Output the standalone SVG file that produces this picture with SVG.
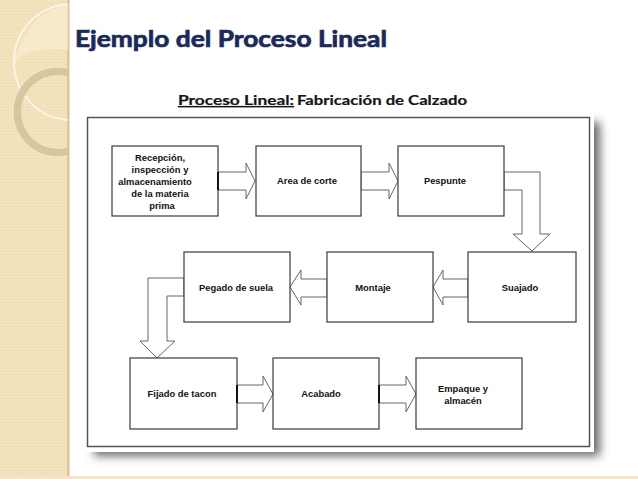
<svg xmlns="http://www.w3.org/2000/svg" width="638" height="479" viewBox="0 0 638 479">
<style>
.box{fill:#fff;stroke:#3a3a3a;stroke-width:1.2}
.arr{fill:#fff;stroke:#666;stroke-width:1}
.lbl{font-family:"Liberation Sans",Arial,sans-serif;font-weight:bold;font-size:9.4px;fill:#111;text-anchor:middle}
.edge{stroke:#111;stroke-width:2}
</style>
<defs>
<pattern id="dots" width="3" height="3" patternUnits="userSpaceOnUse">
<rect width="3" height="3" fill="#f1dfb6"/>
<rect width="1.5" height="1.5" fill="#f6e8c8"/>
</pattern>
<clipPath id="strip"><rect x="0" y="0" width="68" height="479"/></clipPath>
<filter id="blur" x="-10%" y="-10%" width="120%" height="120%"><feGaussianBlur stdDeviation="5"/></filter>
</defs>
<rect width="638" height="479" fill="#fff"/>
<g id="decor">
<rect x="0" y="0" width="68" height="479" fill="url(#dots)"/>
<rect x="67" y="0" width="2.5" height="479" fill="#d8c59a"/>
<g clip-path="url(#strip)">
<path d="M14,60 Q30,10 68,4 L68,50 Q40,45 14,60 Z" fill="#f7ecd2" opacity="0.7"/>
<circle cx="72" cy="62" r="58" fill="none" stroke="#fbf6ea" stroke-width="1.8"/>
<circle cx="58" cy="112" r="41" fill="none" stroke="#d2c19a" stroke-width="8" opacity="0.85"/>
<circle cx="58" cy="112" r="45" fill="none" stroke="#f8efd8" stroke-width="1" opacity="0.8"/>
</g>
<rect x="0" y="476" width="638" height="3" fill="#f6e4cc"/>
</g>
<g id="title">
<text x="75" y="47" font-family="Lato,'Open Sans',sans-serif" font-weight="bold" font-size="22" fill="#1a2a5e" stroke="#1a2a5e" stroke-width="0.7" textLength="312" lengthAdjust="spacingAndGlyphs">Ejemplo del Proceso Lineal</text>
<text x="178" y="105" font-family="Lato,'Open Sans',sans-serif" font-weight="bold" font-size="12.5" fill="#151515" stroke="#151515" stroke-width="0.2" text-decoration="underline" textLength="116" lengthAdjust="spacingAndGlyphs">Proceso Lineal:</text>
<text x="297" y="105" font-family="Lato,'Open Sans',sans-serif" font-weight="bold" font-size="12.5" fill="#151515" stroke="#151515" stroke-width="0.2" textLength="170" lengthAdjust="spacingAndGlyphs">Fabricación de Calzado</text>
</g>
<g id="frame">
<rect x="94" y="122" width="506" height="334" fill="#444" opacity="0.8" filter="url(#blur)"/>
<rect x="82" y="112" width="512" height="340" fill="#fff"/>
<rect x="87.5" y="117.5" width="502" height="329" fill="#fff" stroke="#555" stroke-width="1.5"/>
</g>
<g id="connectors">
<polygon class="arr" points="218,172 246,172 246,163 255,181 246,199 246,190 218,190"/>
<polygon class="arr" points="361,172 389,172 389,163 398,181 389,199 389,190 361,190"/>
<polygon class="arr" points="504,172 540,172 540,234 550,234 532,251 513,234 522,234 522,190 504,190"/>
<polygon class="arr" points="468,279 443,279 443,270 433,287 443,305 443,297 468,297"/>
<polygon class="arr" points="327,279 301,279 301,270 290,287 301,305 301,297 327,297"/>
<polygon class="arr" points="184,278 148,278 148,341 140,341 157,358 175,341 167,341 167,296 184,296"/>
<polygon class="arr" points="237,385 263,385 263,376 273,394 263,412 263,403 237,403"/>
<polygon class="arr" points="379,385 406,385 406,376 416,394 406,412 406,403 379,403"/>
</g>
<g id="n1"><rect class="box" x="112" y="146" width="106" height="70"/><line class="edge" x1="218" y1="172" x2="218" y2="190"/>
<text class="lbl" x="160" y="161">Recepción,</text>
<text class="lbl" x="160" y="173">inspección y</text>
<text class="lbl" x="155" y="185">almacenamiento</text>
<text class="lbl" x="160" y="197">de la materia</text>
<text class="lbl" x="162" y="209">prima</text></g>
<g id="n2"><rect class="box" x="256" y="146" width="105" height="70"/><text class="lbl" x="307" y="184">Area de corte</text></g>
<g id="n3"><rect class="box" x="398" y="146" width="106" height="70"/><text class="lbl" x="445" y="184">Pespunte</text></g>
<g id="n4"><rect class="box" x="468" y="252" width="108" height="70"/><text class="lbl" x="520" y="291">Suajado</text></g>
<g id="n5"><rect class="box" x="327" y="252" width="106" height="70"/><text class="lbl" x="373" y="291">Montaje</text></g>
<g id="n6"><rect class="box" x="184" y="252" width="106" height="70"/><text class="lbl" x="236" y="291">Pegado de suela</text></g>
<g id="n7"><rect class="box" x="130" y="358" width="107" height="71"/><line class="edge" x1="237" y1="385" x2="237" y2="403"/><text class="lbl" x="182" y="397">Fijado de tacon</text></g>
<g id="n8"><rect class="box" x="273" y="358" width="106" height="71"/><line class="edge" x1="379" y1="385" x2="379" y2="403"/><text class="lbl" x="321" y="397">Acabado</text></g>
<g id="n9"><rect class="box" x="416" y="358" width="106" height="71"/>
<text class="lbl" x="463" y="392">Empaque y</text>
<text class="lbl" x="463" y="404">almacén</text></g>
</svg>
